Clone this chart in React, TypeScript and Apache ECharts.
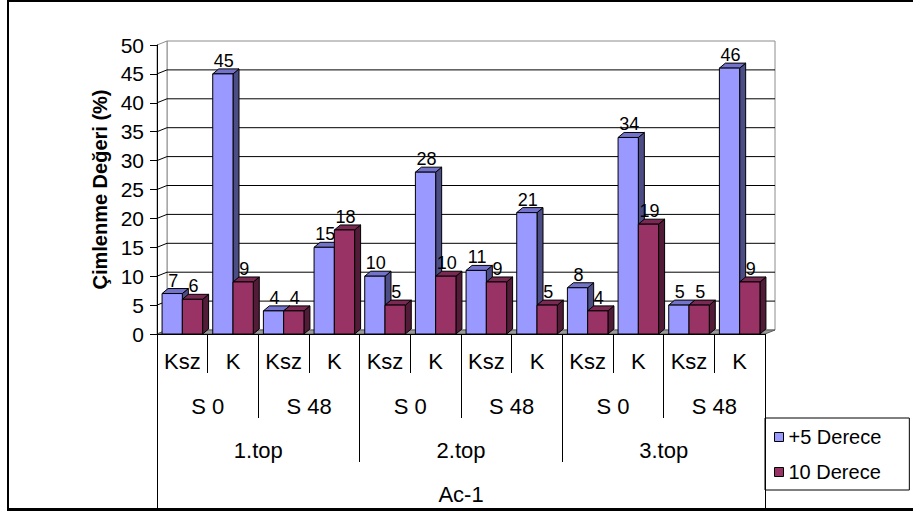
import { useEffect, useRef } from "react";
import * as echarts from "echarts";

// Category hierarchy (innermost first)
const treatments = ["Ksz", "K", "Ksz", "K", "Ksz", "K", "Ksz", "K", "Ksz", "K", "Ksz", "K"];
const storage = ["S 0", "S 48", "S 0", "S 48", "S 0", "S 48"];
const tops = ["1.top", "2.top", "3.top"];
const outer = ["Ac-1"];

// Germination values (%)
const plus5 = [7, 45, 4, 15, 10, 28, 11, 21, 8, 34, 5, 46];
const deg10 = [6, 9, 4, 18, 5, 10, 9, 5, 4, 19, 5, 9];
const seriesNames = ["+5 Derece", "10 Derece"];

const yMin = 0;
const yMax = 50;
const yStep = 5;
const yTicks = [0, 5, 10, 15, 20, 25, 30, 35, 40, 45, 50];

const FONT = "'Liberation Sans', Arial, sans-serif";

// 3D depth of the walls and of the columns
const WALL_DX = 10;
const WALL_DY = -4;
const BAR_DX = 6;
const BAR_DY = -5;

const palette = [
  { front: "#9999FF", top: "#7373CC", side: "#4D4D85" },
  { front: "#993366", top: "#7A2952", side: "#521B37" },
];

function barRenderer(seriesIdx: number) {
  const c = palette[seriesIdx];
  return (params: any, api: any) => {
    const idx = api.value(0);
    const val = api.value(1);
    const [cx, yTop] = api.coord([idx, val]);
    const [, yBase] = api.coord([idx, 0]);
    const band = api.size([1, 0])[0];
    const bw = band * 0.4;
    const x0 = seriesIdx === 0 ? cx - bw : cx;
    const x1 = x0 + bw;
    const line = { stroke: "#000", lineWidth: 1 };
    return {
      type: "group",
      children: [
        {
          type: "polygon",
          shape: { points: [[x1, yTop], [x1 + BAR_DX, yTop + BAR_DY], [x1 + BAR_DX, yBase + BAR_DY], [x1, yBase]] },
          style: { fill: c.side, ...line },
        },
        {
          type: "polygon",
          shape: { points: [[x0, yTop], [x0 + BAR_DX, yTop + BAR_DY], [x1 + BAR_DX, yTop + BAR_DY], [x1, yTop]] },
          style: { fill: c.top, ...line },
        },
        {
          type: "rect",
          shape: { x: x0, y: yTop, width: bw, height: yBase - yTop },
          style: { fill: c.front, ...line },
        },
        {
          type: "text",
          x: x0 + bw / 2 + 1,
          y: yTop + BAR_DY + 1,
          z2: 10,
          style: {
            text: String(val),
            align: "center",
            verticalAlign: "bottom",
            fontSize: 18,
            fontFamily: FONT,
            fill: "#000",
          },
        },
      ],
    };
  };
}

// Floor, side wall, back wall and the gridlines drawn on them
function frameRenderer(params: any, api: any) {
  const cs = params.coordSys;
  const left = cs.x;
  const right = cs.x + cs.width;
  const yOf = (v: number) => api.coord([0, v])[1];
  const y0 = yOf(yMin);
  const yT = yOf(yMax);
  const children: any[] = [
    {
      type: "polygon",
      shape: { points: [[left + WALL_DX, yT + WALL_DY], [right + WALL_DX, yT + WALL_DY], [right + WALL_DX, y0 + WALL_DY], [left + WALL_DX, y0 + WALL_DY]] },
      style: { fill: "#fff", stroke: "#8c8c8c", lineWidth: 1 },
    },
    {
      type: "polygon",
      shape: { points: [[left, yT], [left + WALL_DX, yT + WALL_DY], [left + WALL_DX, y0 + WALL_DY], [left, y0]] },
      style: { fill: "#fff", stroke: "#8c8c8c", lineWidth: 1 },
    },
    {
      type: "polygon",
      shape: { points: [[left, y0], [right, y0], [right + WALL_DX, y0 + WALL_DY], [left + WALL_DX, y0 + WALL_DY]] },
      style: { fill: "#9a9a9a", stroke: "#5a5a5a", lineWidth: 1 },
    },
  ];
  yTicks.forEach((v) => {
    if (v === yMin || v === yMax) return;
    const y = yOf(v);
    children.push({
      type: "polyline",
      shape: { points: [[left, y], [left + WALL_DX, y + WALL_DY], [right + WALL_DX, y + WALL_DY]] },
      style: { stroke: "#000", lineWidth: 1, fill: null },
    });
  });
  return { type: "group", children };
}

function levelAxis(data: string[], tickLen: number, labelMid: number, show: boolean) {
  return {
    type: "category",
    position: "bottom",
    gridIndex: 0,
    offset: 0,
    data,
    boundaryGap: true,
    z: 5,
    axisLine: { show, lineStyle: { color: "#000", width: 1 } },
    axisTick: { show: true, length: tickLen, interval: 0, lineStyle: { color: "#000", width: 1 } },
    axisLabel: {
      interval: 0,
      margin: labelMid,
      verticalAlign: "middle",
      color: "#000",
      fontSize: 22,
      fontFamily: FONT,
    },
    splitLine: { show: false },
  };
}

export default function App() {
  const ref = useRef<HTMLDivElement>(null);

  useEffect(() => {
    if (!ref.current) return;
    const chart = echarts.init(ref.current, null, { renderer: "svg" });
    chart.setOption({
      animation: false,
      backgroundColor: "#fff",
      textStyle: { fontFamily: FONT },
      grid: { left: 157, right: 148, top: 45, bottom: 177, containLabel: false },
      xAxis: [
        levelAxis(treatments, 39, 27, true),
        levelAxis(storage, 84, 72, false),
        levelAxis(tops, 128, 116, false),
        levelAxis(outer, 176, 160, false),
      ],
      yAxis: {
        type: "value",
        min: yMin,
        max: yMax,
        interval: yStep,
        z: 5,
        axisLine: { show: true, lineStyle: { color: "#000", width: 1 } },
        axisTick: { show: true, length: 7, lineStyle: { color: "#000", width: 1 } },
        axisLabel: { margin: 13, color: "#000", fontSize: 21, fontFamily: FONT },
        splitLine: { show: false },
        name: "Çimlenme Değeri (%)",
        nameLocation: "middle",
        nameRotate: 90,
        nameGap: 45,
        nameTextStyle: { fontSize: 20, fontWeight: "bold", color: "#000", fontFamily: FONT },
      },
      legend: {
        data: seriesNames,
        orient: "vertical",
        left: 765,
        top: 418,
        icon: "rect",
        itemWidth: 9,
        itemHeight: 9,
        itemGap: 15,
        padding: [9, 28, 8, 9],
        backgroundColor: "#fff",
        borderColor: "#000",
        borderWidth: 1,
        borderRadius: 0,
        itemStyle: { borderColor: "#000", borderWidth: 1 },
        textStyle: { fontSize: 20, color: "#000", fontFamily: FONT },
      },
      series: [
        {
          type: "custom",
          name: "frame",
          z: 1,
          silent: true,
          renderItem: frameRenderer,
          data: [[0, 0]],
        },
        {
          type: "custom",
          name: seriesNames[0],
          z: 2,
          itemStyle: { color: palette[0].front, borderColor: "#000", borderWidth: 1 },
          renderItem: barRenderer(0),
          data: plus5.map((v, i) => [i, v]),
        },
        {
          type: "custom",
          name: seriesNames[1],
          z: 3,
          itemStyle: { color: palette[1].front, borderColor: "#000", borderWidth: 1 },
          renderItem: barRenderer(1),
          data: deg10.map((v, i) => [i, v]),
        },
      ],
      graphic: [
        { type: "rect", shape: { x: 7, y: 0, width: 2, height: 511 }, style: { fill: "#000" }, z: 10 },
        { type: "rect", shape: { x: 7, y: 0, width: 906, height: 2 }, style: { fill: "#000" }, z: 10 },
        { type: "rect", shape: { x: 7, y: 508, width: 906, height: 3 }, style: { fill: "#000" }, z: 10 },
      ],
    });
    return () => chart.dispose();
  }, []);

  return (
    <div
      ref={ref}
      style={{ position: "absolute", left: 0, top: 0, width: 913, height: 511, background: "#fff" }}
    />
  );
}
